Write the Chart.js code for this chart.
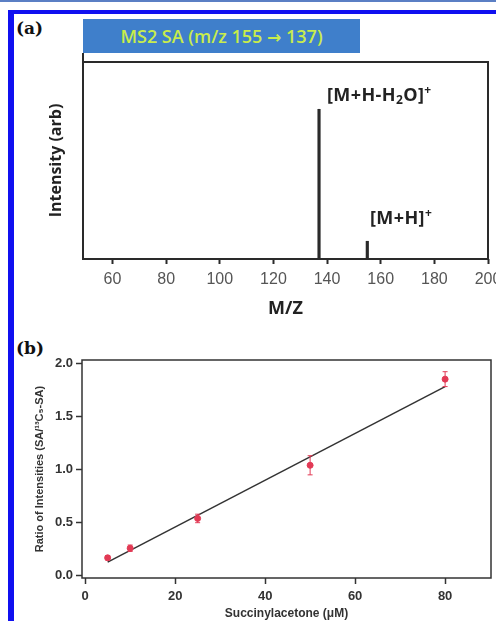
<!DOCTYPE html>
<html lang="en">
<head>
<meta charset="UTF-8">
<title>MS2 SA and calibration</title>
<script src="https://cdn.jsdelivr.net/npm/chart.js"></script>
<style>
    body { margin: 0; background: #fff; }
    #page { position: relative; width: 496px; height: 621px; overflow: hidden; background: #fff; }
    .topline { position: absolute; left: 0; top: 0; width: 496px; height: 2px; background: #5b7fc4; }
    .frameTop { position: absolute; left: 8px; top: 10px; width: 488px; height: 4px; background: #1010f0; }
    .frameLeft { position: absolute; left: 8px; top: 10px; width: 6px; height: 611px; background: #1010f0; }
    .panel { position: absolute; left: 16px; font-family: "DejaVu Serif", "Liberation Serif", serif; font-weight: bold; font-size: 17px; color: #111; }
    #header { position: absolute; left: 83px; top: 19px; width: 277px; height: 34px; background: #3f7fcb;
              color: #c8ec4c; font-family: "Open Sans", sans-serif; font-weight: 600; font-size: 18px;
              line-height: 34px; text-align: center; z-index: 2; }
    #header .arr { font-family: "DejaVu Sans", sans-serif; font-weight: bold; font-size: 17px; }
    .ann { position: absolute; font-family: "Open Sans", sans-serif; font-weight: bold; font-size: 18px;
           letter-spacing: 0.4px; color: #222; }
    .ann sub { font-size: 12px; vertical-align: -3px; }
    .ann sup { font-size: 12px; vertical-align: 7px; }
    canvas { position: absolute; left: 0; }
</style>
</head>
<body>
<div id="page">
    <div class="topline"></div>
    <div class="frameTop"></div>
    <div class="frameLeft"></div>
    <div class="panel" style="top:18px;">(a)</div>
    <div class="panel" style="top:338px;">(b)</div>
    <canvas id="msChart" width="496" height="320" style="top:0;"></canvas>
    <canvas id="calChart" width="496" height="301" style="top:320px;"></canvas>
    <div id="header">MS2 SA (m/z 155 <span class="arr">→</span> 137)</div>
    <div class="ann" style="left:327px; top:81px;">[M+H-H<sub>2</sub>O]<sup>+</sup></div>
    <div class="ann" style="left:370px; top:204px;">[M+H]<sup>+</sup></div>
</div>

<script>
    // panel (a): MS2 spectrum peaks
    const peakMz = [137, 155];
    const peakIntensity = [0.76, 0.09];
    const mzTicks = [60, 80, 100, 120, 140, 160, 180, 200];

    // panel (b): calibration
    const concentration = [5, 10, 25, 50, 80];
    const ratio = [0.17, 0.26, 0.54, 1.04, 1.85];
    const ratioErr = [0.02, 0.03, 0.04, 0.09, 0.07];
    const fitX = [5, 80];
    const fitY = [0.13, 1.78];
    const concTicks = [0, 20, 40, 60, 80];
    const ratioTicks = [0, 0.5, 1, 1.5, 2];

    // box around plot area (left side may run up under the header)
    const frameBox = {
        id: "frameBox",
        afterDatasetsDraw(chart, args, opts) {
            const a = chart.chartArea;
            const ctx = chart.ctx;
            const ext = opts.leftExtend || 0;
            ctx.save();
            ctx.strokeStyle = opts.color || "#2a2a2a";
            ctx.lineWidth = opts.width || 2;
            ctx.strokeRect(a.left, a.top, a.right - a.left, a.bottom - a.top);
            if (ext) {
                ctx.beginPath();
                ctx.moveTo(a.left, a.top);
                ctx.lineTo(a.left, a.top - ext);
                ctx.stroke();
            }
            ctx.restore();
        }
    };

    // error bars for the calibration points
    const errorBars = {
        id: "errorBars",
        afterDatasetsDraw(chart) {
            const xs = chart.scales.x, ys = chart.scales.y;
            const ctx = chart.ctx;
            ctx.save();
            ctx.strokeStyle = "#e23a55";
            ctx.lineWidth = 1;
            concentration.forEach((c, i) => {
                const px = xs.getPixelForValue(c);
                const top = ys.getPixelForValue(ratio[i] + ratioErr[i]);
                const bot = ys.getPixelForValue(ratio[i] - ratioErr[i]);
                ctx.beginPath();
                ctx.moveTo(px, top); ctx.lineTo(px, bot);
                ctx.moveTo(px - 2.5, top); ctx.lineTo(px + 2.5, top);
                ctx.moveTo(px - 2.5, bot); ctx.lineTo(px + 2.5, bot);
                ctx.stroke();
            });
            ctx.restore();
        }
    };

    new Chart(document.getElementById("msChart"), {
        type: "bar",
        data: {
            datasets: [{
                data: peakMz.map((m, i) => ({ x: m, y: peakIntensity[i] })),
                backgroundColor: "#2a2a2a",
                barThickness: 2.5
            }]
        },
        options: {
            responsive: false,
            animation: false,
            layout: { padding: { top: 62, right: 8, left: 0, bottom: 0 } },
            plugins: { legend: { display: false }, tooltip: { enabled: false },
                       frameBox: { width: 2, color: "#2a2a2a", leftExtend: 9 } },
            scales: {
                x: {
                    type: "linear",
                    min: 49, max: 200,
                    offset: false,
                    afterBuildTicks: s => { s.ticks = mzTicks.map(v => ({ value: v })); },
                    afterFit: s => { s.height = 61; s.paddingLeft = 0; s.paddingRight = 0; },
                    grid: { display: true, drawOnChartArea: false, offset: false, tickLength: 5, tickColor: "#2a2a2a", tickWidth: 2 },
                    border: { display: false },
                    ticks: { padding: 6, color: "#555", font: { family: "Liberation Sans", size: 16 }, maxRotation: 0 },
                    title: { display: true, text: "M/Z", color: "#222", padding: { top: 0, bottom: 0 },
                             font: { family: "Open Sans", size: 18, weight: "bold" } }
                },
                y: {
                    min: 0, max: 1,
                    afterFit: s => { s.width = 83; },
                    grid: { display: false },
                    border: { display: false },
                    ticks: { display: false },
                    title: { display: true, text: "Intensity (arb)", color: "#222", padding: { top: 47, bottom: 0 },
                             font: { family: "Open Sans", size: 16, weight: "bold" } }
                }
            }
        },
        plugins: [frameBox]
    });

    new Chart(document.getElementById("calChart"), {
        type: "scatter",
        data: {
            datasets: [{
                type: "line",
                data: fitX.map((x, i) => ({ x: x, y: fitY[i] })),
                borderColor: "#333",
                borderWidth: 1.5,
                pointRadius: 0,
                order: 2
            }, {
                data: concentration.map((c, i) => ({ x: c, y: ratio[i] })),
                backgroundColor: "#e23a55",
                borderColor: "#e23a55",
                pointRadius: 3,
                order: 1
            }]
        },
        options: {
            responsive: false,
            animation: false,
            layout: { padding: { top: 40, right: 2, left: 0, bottom: 0 } },
            plugins: { legend: { display: false }, tooltip: { enabled: false }, frameBox: { width: 1.5, color: "#333" } },
            scales: {
                x: {
                    type: "linear",
                    min: -0.7, max: 90.2,
                    afterBuildTicks: s => { s.ticks = concTicks.map(v => ({ value: v })); },
                    afterFit: s => { s.height = 43; s.paddingLeft = 0; s.paddingRight = 0; },
                    grid: { display: true, drawOnChartArea: false, tickLength: 6, tickColor: "#333", tickWidth: 1.5 },
                    border: { display: false },
                    ticks: { padding: 5, color: "#333", font: { family: "Liberation Sans", size: 13, weight: "bold" }, maxRotation: 0 },
                    title: { display: true, text: "Succinylacetone (μM)", color: "#333", padding: { top: 0, bottom: 0 },
                             font: { family: "Liberation Sans", size: 12, weight: "bold" } }
                },
                y: {
                    min: -0.02, max: 2.03,
                    afterBuildTicks: s => { s.ticks = ratioTicks.map(v => ({ value: v })); },
                    afterFit: s => { s.width = 82; },
                    grid: { display: true, drawOnChartArea: false, tickLength: 6, tickColor: "#333", tickWidth: 1.5 },
                    border: { display: false },
                    ticks: { padding: 3, color: "#333", font: { family: "Liberation Sans", size: 13, weight: "bold" },
                             callback: v => Number(v).toFixed(1) },
                    title: { display: true, text: "Ratio of Intensities (SA/¹³C₅-SA)", color: "#333", padding: { top: 33, bottom: 0 },
                             font: { family: "Liberation Sans", size: 11, weight: "bold" } }
                }
            }
        },
        plugins: [frameBox, errorBars]
    });
</script>
</body>
</html>
